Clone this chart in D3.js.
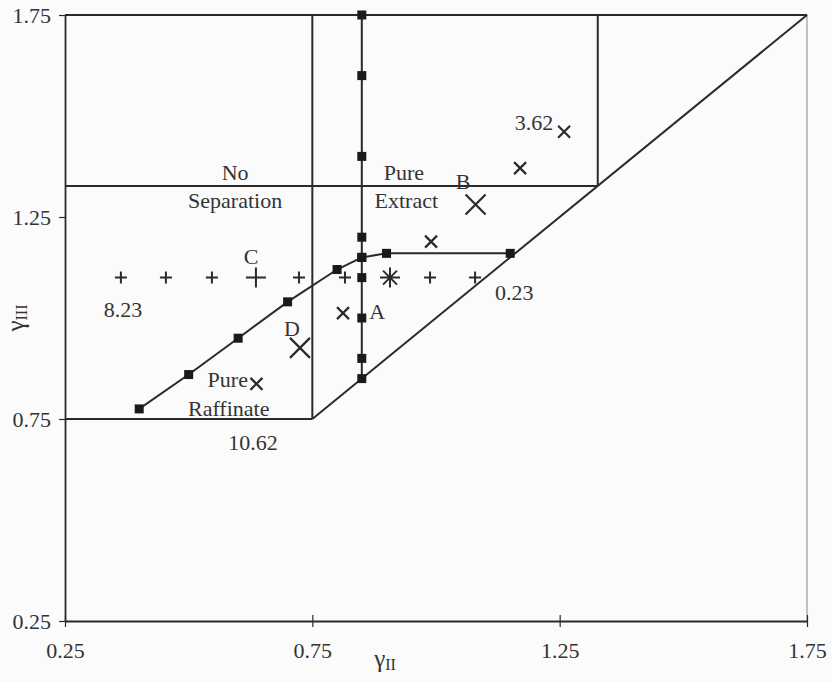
<!DOCTYPE html>
<html>
<head>
<meta charset="utf-8">
<script src="https://cdn.jsdelivr.net/npm/d3@7"></script>
<style>
  html, body { margin: 0; padding: 0; background: #fbfbfb; }
  svg { display: block; }
  text { font-family: "Liberation Serif", "Times New Roman", serif; fill: #333; }
</style>
</head>
<body>
<svg id="chart" width="832" height="682"></svg>
<script>
// Axis ticks
const xTicks = [0.25, 0.75, 1.25, 1.75];
const yTicks = [0.25, 0.75, 1.25, 1.75];

// Region boundaries (pairs of [γII, γIII] end points)
const raffinateFloor = [[0.25, 0.75], [0.75, 0.75]];
const diagonal = [[0.75, 0.75], [1.75, 1.75]];
const splitVertical = [[0.75, 0.75], [0.75, 1.75]];
const extractCeiling = [[0.25, 1.327], [1.327, 1.327]];
const extractVertical = [[1.327, 1.327], [1.327, 1.75]];

// Square-marker curve along constant γII
const vertX = [0.85, 0.85, 0.85, 0.85, 0.85, 0.85, 0.85, 0.85, 0.85];
const vertY = [1.75, 1.60, 1.40, 1.20, 1.15, 1.10, 1.00, 0.90, 0.85];

// Square-marker curve from pure raffinate to 0.23
const curveX = [0.40, 0.50, 0.60, 0.70, 0.80, 0.85, 0.90, 1.15];
const curveY = [0.775, 0.86, 0.95, 1.04, 1.12, 1.15, 1.16, 1.16];

// "+" points at constant γIII (big one at C)
const plusX = [0.363, 0.454, 0.547, 0.636, 0.723, 0.816, 0.988, 1.079];
const plusY = [1.10, 1.10, 1.10, 1.10, 1.10, 1.10, 1.10, 1.10];
const plusBig = [false, false, false, true, false, false, false, false];

// "×" points along the diagonal direction (big ones at D and B)
const crossX = [0.637, 0.725, 0.812, 0.990, 1.080, 1.170, 1.259];
const crossY = [0.837, 0.926, 1.012, 1.189, 1.281, 1.371, 1.461];
const crossBig = [false, true, false, false, true, false, false];

// Shared point of both series
const starPoint = [0.907, 1.10];

// Text annotations
const labelText = ["No", "Separation", "Pure", "Extract", "B", "3.62", "C", "8.23", "D", "A", "0.23", "Pure", "Raffinate", "10.62"];
const labelX = [0.594, 0.594, 0.935, 0.94, 1.055, 1.198, 0.626, 0.367, 0.709, 0.881, 1.158, 0.579, 0.581, 0.630];
const labelY = [1.361, 1.292, 1.361, 1.292, 1.337, 1.483, 1.153, 1.020, 0.975, 1.015, 1.064, 0.847, 0.777, 0.693];

const svg = d3.select("#chart");
const x = d3.scaleLinear().domain([0.25, 1.75]).range([65, 807]);
const y = d3.scaleLinear().domain([0.25, 1.75]).range([621, 15]);
const ink = "#2a2a2a";

const line = d3.line().x(d => x(d[0])).y(d => y(d[1]));
const zip = (a, b) => a.map((v, i) => [v, b[i]]);

// Frame: top and right edges
svg.append("path").attr("d", line([[0.25, 1.75], [1.75, 1.75]]))
  .attr("stroke", ink).attr("stroke-width", 1.8).attr("fill", "none");
svg.append("path").attr("d", line([[1.75, 1.75], [1.75, 0.25]]))
  .attr("stroke", "#9a9a9a").attr("stroke-width", 1.2).attr("fill", "none");

// Axes
const xAxis = d3.axisBottom(x).tickValues(xTicks).tickFormat(d3.format(".2f"))
  .tickSizeInner(6).tickSizeOuter(0).tickPadding(15);
const yAxis = d3.axisLeft(y).tickValues(yTicks).tickFormat(d3.format(".2f"))
  .tickSizeInner(6).tickSizeOuter(0).tickPadding(8);

const gx = svg.append("g").attr("transform", `translate(0,${y(0.25)})`).call(xAxis);
const gy = svg.append("g").attr("transform", `translate(${x(0.25)},0)`).call(yAxis);
[gx, gy].forEach(g => {
  g.select(".domain").attr("stroke", ink).attr("stroke-width", 1.8);
  g.selectAll(".tick line").attr("stroke", ink).attr("stroke-width", 1.2);
  g.selectAll(".tick text").style("font-family", "Liberation Serif, serif")
    .style("font-size", "22px").attr("fill", "#333");
});
// x ticks cross the axis line
gx.selectAll(".tick line").attr("y1", -6).attr("y2", 6);

// Region boundaries
[raffinateFloor, diagonal, splitVertical, extractCeiling, extractVertical].forEach(seg => {
  svg.append("path").attr("d", line(seg))
    .attr("stroke", ink).attr("stroke-width", 2).attr("fill", "none");
});

// Square-marker curves
[zip(vertX, vertY), zip(curveX, curveY)].forEach(pts => {
  svg.append("path").attr("d", line(pts))
    .attr("stroke", ink).attr("stroke-width", 2).attr("fill", "none");
  svg.append("g").selectAll("rect").data(pts).join("rect")
    .attr("x", d => x(d[0]) - 4.5).attr("y", d => y(d[1]) - 4.5)
    .attr("width", 9).attr("height", 9).attr("fill", "#1a1a1a");
});

// "+" markers
const plusData = zip(plusX, plusY).map((p, i) => ({ p, r: plusBig[i] ? 10 : 6 }));
svg.append("g").selectAll("path").data(plusData).join("path")
  .attr("d", d => {
    const cx = x(d.p[0]), cy = y(d.p[1]), r = d.r;
    return `M${cx - r},${cy}H${cx + r}M${cx},${cy - r}V${cy + r}`;
  })
  .attr("stroke", ink).attr("stroke-width", 2).attr("fill", "none");

// "×" markers
const crossData = zip(crossX, crossY).map((p, i) => ({ p, r: crossBig[i] ? 10 : 6 }));
svg.append("g").selectAll("path").data(crossData).join("path")
  .attr("d", d => {
    const cx = x(d.p[0]), cy = y(d.p[1]), r = d.r;
    return `M${cx - r},${cy - r}L${cx + r},${cy + r}M${cx - r},${cy + r}L${cx + r},${cy - r}`;
  })
  .attr("stroke", ink).attr("stroke-width", 2.2).attr("fill", "none");

// Asterisk where both series meet
{
  const cx = x(starPoint[0]), cy = y(starPoint[1]), r = 10, q = 7;
  svg.append("path")
    .attr("d", `M${cx - r},${cy}H${cx + r}M${cx},${cy - r}V${cy + r}M${cx - q},${cy - q}L${cx + q},${cy + q}M${cx - q},${cy + q}L${cx + q},${cy - q}`)
    .attr("stroke", ink).attr("stroke-width", 2).attr("fill", "none");
}

// Annotations
svg.append("g").selectAll("text").data(labelText).join("text")
  .attr("x", (d, i) => x(labelX[i])).attr("y", (d, i) => y(labelY[i]))
  .attr("text-anchor", "middle").attr("dominant-baseline", "central")
  .style("font-size", "22px")
  .text(d => d);

// Axis titles
const xt = svg.append("text").attr("x", 385).attr("y", 667)
  .attr("text-anchor", "middle").style("font-size", "25px");
xt.append("tspan").text("γ");
xt.append("tspan").attr("dy", 3).style("font-size", "16px").text("II");

const yt = svg.append("text").attr("transform", "translate(24,318) rotate(-90)")
  .attr("text-anchor", "middle").style("font-size", "25px");
yt.append("tspan").text("γ");
yt.append("tspan").attr("dy", 3).style("font-size", "16px").text("III");
</script>
</body>
</html>
